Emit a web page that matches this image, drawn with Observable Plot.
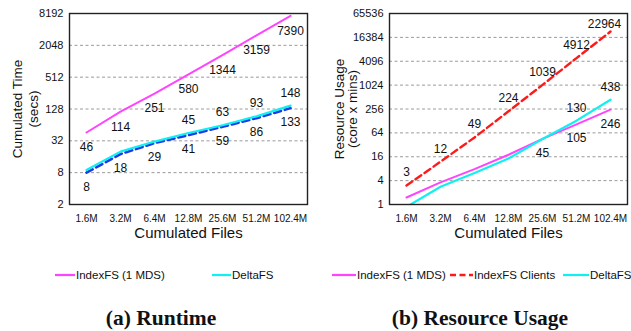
<!DOCTYPE html>
<html>
<head>
<meta charset="utf-8">
<script src="https://cdn.jsdelivr.net/npm/d3@7"></script>
<script src="https://cdn.jsdelivr.net/npm/@observablehq/plot@0.6"></script>
<style>
  html, body { margin: 0; padding: 0; background: #fff; }
  #root { position: relative; width: 631px; height: 331px; overflow: hidden; font-family: "Liberation Sans", Arial, sans-serif; }
  .panel { position: absolute; top: 0; }
  .legend { position: absolute; top: 267px; height: 16px; font-size: 11.5px; color: #111; }
  .item { position: absolute; top: 0; display: flex; align-items: center; height: 16px; white-space: nowrap; }
  .item svg { display: block; margin-right: 1px; }
  .caption { position: absolute; top: 306px; line-height: 24px; font-family: "Liberation Serif", "DejaVu Serif", serif; font-weight: bold; font-size: 21.5px; color: #111; transform: translateX(-50%); white-space: nowrap; }
</style>
</head>
<body>
<div id="root"></div>
<script>
// ---- data ----
const files = ["1.6M", "3.2M", "6.4M", "12.8M", "25.6M", "51.2M", "102.4M"];

// (a) Runtime, cumulated time (secs)
const runtimeIndexFS = [46, 114, 251, 580, 1344, 3159, 7390];
const runtimeDeltaFS = [9, 20, 31, 45, 63, 93, 148];
const runtimeDeltaFSDashed = [8, 18, 29, 41, 59, 86, 133];
const runtimeTicks = [2, 8, 32, 128, 512, 2048, 8192];

// (b) Resource usage (core x mins)
const usageIndexFS = [1.5, 3.6, 7.8, 18, 45, 105, 246];
const usageIndexFSClients = [3, 12, 49, 224, 1039, 4912, 22964];
const usageDeltaFS = [0.87, 2.8, 6.2, 14.5, 45, 130, 438];
const usageTicks = [1, 4, 16, 64, 256, 1024, 4096, 16384, 65536];

const seriesA = ["IndexFS (1 MDS)", "DeltaFS"];
const seriesB = ["IndexFS (1 MDS)", "IndexFS Clients", "DeltaFS"];
const captions = ["(a) Runtime", "(b) Resource Usage"];

// ---- styles ----
const MAGENTA = "#ff44ff";
const CYAN = "#11f0f0";
const BLUE = "#1a3ae8";
const RED = "#ff1a1a";
const FONT = "\"Liberation Sans\", Arial, sans-serif";

const rows = vals => files.map((f, i) => ({file: f, v: vals[i], i}));
const lab = d => String(d.v);

function basePlot({marginLeft, marginRight, ticks, yLabel1, yLabel2, l1dx, l2dx, marks}) {
  const grid = ticks.slice(1, -1);
  return Plot.plot({
    width: 315, height: 245,
    marginLeft, marginRight, marginTop: 13, marginBottom: 41,
    style: {fontFamily: FONT, color: "#111", background: "transparent", overflow: "visible"},
    x: {type: "point", domain: files, padding: 0.5},
    y: {type: "log", base: 2, domain: [ticks[0], ticks[ticks.length - 1]]},
    marks: [
      Plot.gridY(grid, {stroke: "#9a9a9a", strokeOpacity: 1, strokeDasharray: "3,2.5", strokeWidth: 1}),
      Plot.axisY({ticks, tickFormat: d => String(d), tickSize: 0, tickPadding: 6, fontSize: 11, label: null}),
      Plot.axisX({tickSize: 0, tickPadding: 10, fontSize: 10, label: null}),
      ...marks,
      Plot.frame({stroke: "#222", strokeWidth: 1.4}),
      Plot.text([yLabel1], {frameAnchor: "left", textAnchor: "middle", lineAnchor: "middle", rotate: -90, dx: l1dx, fontSize: 13.5}),
      Plot.text([yLabel2], {frameAnchor: "left", textAnchor: "middle", lineAnchor: "middle", rotate: -90, dx: l2dx, fontSize: 13.5}),
      Plot.text(["Cumulated Files"], {frameAnchor: "bottom", lineAnchor: "middle", dy: 29, fontSize: 15})
    ]
  });
}

const plotA = basePlot({
  marginLeft: 69, marginRight: 8, ticks: runtimeTicks,
  yLabel1: "Cumulated Time", yLabel2: "(secs)", l1dx: -52, l2dx: -36,
  marks: [
    Plot.line(rows(runtimeIndexFS), {x: "file", y: "v", stroke: MAGENTA, strokeWidth: 2}),
    Plot.line(rows(runtimeDeltaFSDashed), {x: "file", y: "v", stroke: BLUE, strokeWidth: 2.6, strokeDasharray: "7,4"}),
    Plot.line(rows(runtimeDeltaFS), {x: "file", y: "v", stroke: CYAN, strokeWidth: 2.2}),
    Plot.text(rows(runtimeIndexFS), {x: "file", y: "v", text: lab, dy: 15, fontSize: 12}),
    Plot.text(rows(runtimeDeltaFS).filter(d => d.i >= 3), {x: "file", y: "v", text: lab, dy: -13, fontSize: 12}),
    Plot.text(rows(runtimeDeltaFSDashed), {x: "file", y: "v", text: lab, dy: 14, fontSize: 12})
  ]
});

const usageRed = rows(usageIndexFSClients);
const plotB = basePlot({
  marginLeft: 73, marginRight: 4, ticks: usageTicks,
  yLabel1: "Resource Usage", yLabel2: "(core x mins)", l1dx: -50, l2dx: -37,
  marks: [
    Plot.line(rows(usageIndexFS), {x: "file", y: "v", stroke: MAGENTA, strokeWidth: 2, clip: true}),
    Plot.line(usageRed, {x: "file", y: "v", stroke: RED, strokeWidth: 2.4, strokeDasharray: "7,4", clip: true}),
    Plot.line(rows(usageDeltaFS), {x: "file", y: "v", stroke: CYAN, strokeWidth: 2.2, clip: true}),
    Plot.text(usageRed.filter(d => d.i < 6), {x: "file", y: "v", text: lab, dy: -13, fontSize: 12}),
    Plot.text(usageRed.filter(d => d.i === 6), {x: "file", y: "v", text: lab, dy: -7, dx: -6, fontSize: 12}),
    Plot.text(rows(usageIndexFS).filter(d => d.i >= 4), {x: "file", y: "v", text: lab, dy: 14, fontSize: 12}),
    Plot.text(rows(usageDeltaFS).filter(d => d.i >= 5), {x: "file", y: "v", text: lab, dy: -13, fontSize: 12})
  ]
});

const root = document.getElementById("root");
const pa = document.createElement("div"); pa.className = "panel"; pa.style.left = "0px"; pa.appendChild(plotA); root.appendChild(pa);
const pb = document.createElement("div"); pb.className = "panel"; pb.style.left = "316px"; pb.appendChild(plotB); root.appendChild(pb);

// ---- legends ----
function swatch(color, dashed, len) {
  const ns = "http://www.w3.org/2000/svg";
  const s = document.createElementNS(ns, "svg");
  s.setAttribute("width", len); s.setAttribute("height", 6);
  const l = document.createElementNS(ns, "line");
  l.setAttribute("x1", 0); l.setAttribute("x2", len); l.setAttribute("y1", 3); l.setAttribute("y2", 3);
  l.setAttribute("stroke", color); l.setAttribute("stroke-width", dashed ? 2.4 : 2.2);
  if (dashed) l.setAttribute("stroke-dasharray", "6,3.5");
  s.appendChild(l);
  return s;
}
function legend(names, colors, dashes, lefts, lens) {
  const lg = document.createElement("div"); lg.className = "legend"; lg.style.left = "0px"; lg.style.width = "631px";
  names.forEach((n, k) => {
    const it = document.createElement("div"); it.className = "item"; it.style.left = lefts[k] + "px";
    it.appendChild(swatch(colors[k], dashes[k], lens[k]));
    const t = document.createElement("span"); t.textContent = n; it.appendChild(t);
    lg.appendChild(it);
  });
  root.appendChild(lg);
}
legend(seriesA, [MAGENTA, CYAN], [false, false], [55, 212], [20, 19]);
legend(seriesB, [MAGENTA, RED, CYAN], [false, true, false], [332, 450, 563], [24, 23, 26]);

// ---- captions ----
[[captions[0], 161], [captions[1], 480]].forEach(([c, x]) => {
  const d = document.createElement("div"); d.className = "caption"; d.style.left = x + "px"; d.textContent = c; root.appendChild(d);
});
</script>
</body>
</html>
